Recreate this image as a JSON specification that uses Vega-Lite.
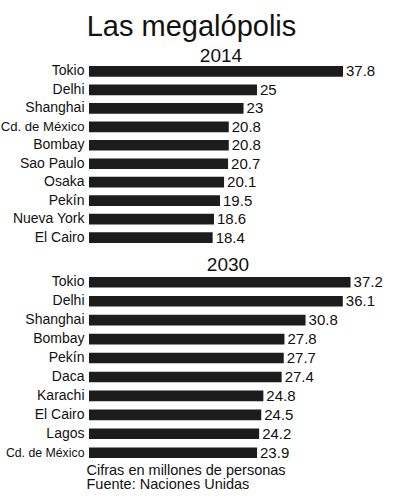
{
  "$schema": "https://vega.github.io/schema/vega-lite/v6.json",
  "padding": {"left": 0, "top": 12, "right": 0, "bottom": 0},
  "background": "white",
  "title": {"text": "Las megalópolis", "fontSize": 29, "fontWeight": "normal", "color": "#111111", "anchor": "middle", "offset": 5},
  "datasets": {
    "d2014": [
      {"city": "Tokio", "value": 37.8},
      {"city": "Delhi", "value": 25},
      {"city": "Shanghai", "value": 23},
      {"city": "Cd. de México", "value": 20.8},
      {"city": "Bombay", "value": 20.8},
      {"city": "Sao Paulo", "value": 20.7},
      {"city": "Osaka", "value": 20.1},
      {"city": "Pekín", "value": 19.5},
      {"city": "Nueva York", "value": 18.6},
      {"city": "El Cairo", "value": 18.4}
    ],
    "d2030": [
      {"city": "Tokio", "value": 37.2},
      {"city": "Delhi", "value": 36.1},
      {"city": "Shanghai", "value": 30.8},
      {"city": "Bombay", "value": 27.8},
      {"city": "Pekín", "value": 27.7},
      {"city": "Daca", "value": 27.4},
      {"city": "Karachi", "value": 24.8},
      {"city": "El Cairo", "value": 24.5},
      {"city": "Lagos", "value": 24.2},
      {"city": "Cd. de México", "value": 23.9}
    ]
  },
  "spacing": 9,
  "resolve": {"scale": {"x": "independent", "y": "independent"}},
  "vconcat": [
    {
      "width": 264,
      "height": 177,
      "data": {"name": "d2014"},
      "title": {"text": "2014", "fontSize": 19, "fontWeight": "normal", "color": "#111111", "frame": "group", "anchor": "middle", "offset": -2},
      "encoding": {
        "y": {"field": "city", "type": "nominal", "sort": null,
              "scale": {"paddingInner": 0.42, "paddingOuter": 0},
              "axis": {"title": null, "ticks": false, "domain": false,
                       "labelFontSize": {"expr": "datum.value == 'Cd. de México' ? 13.1 : 14"},
                       "labelPadding": 5, "labelColor": "#111111", "labelLimit": 200}},
        "x": {"field": "value", "type": "quantitative", "scale": {"domain": [0, 39.29], "nice": false}, "axis": null}
      },
      "layer": [
        {"mark": {"type": "bar", "color": "#1c1c1c"}},
        {"mark": {"type": "text", "align": "left", "baseline": "middle", "dx": 3, "fontSize": 15, "color": "#111111"},
         "encoding": {"text": {"field": "value", "type": "quantitative"}}}
      ]
    },
    {
      "width": 264,
      "height": 181,
      "data": {"name": "d2030"},
      "title": {"text": "2030", "fontSize": 19, "fontWeight": "normal", "color": "#111111", "frame": "group", "anchor": "middle", "offset": 0, "dx": 7},
      "encoding": {
        "y": {"field": "city", "type": "nominal", "sort": null,
              "scale": {"paddingInner": 0.44, "paddingOuter": 0},
              "axis": {"title": null, "ticks": false, "domain": false,
                       "labelFontSize": {"expr": "datum.value == 'Cd. de México' ? 12.3 : 14"},
                       "labelPadding": 5, "labelColor": "#111111", "labelLimit": 200}},
        "x": {"field": "value", "type": "quantitative", "scale": {"domain": [0, 37.55], "nice": false},
              "axis": {"orient": "bottom", "labels": false, "ticks": false, "domain": false, "grid": false,
                       "title": ["Cifras en millones de personas", "Fuente: Naciones Unidas"],
                       "titleFontSize": 14.5, "titleFontWeight": "normal", "titleColor": "#111111",
                       "titleAnchor": "start", "titleAlign": "left", "titleBaseline": "top",
                       "titlePadding": 5, "titleLineHeight": 14.5, "titleX": -3}}
      },
      "layer": [
        {"mark": {"type": "bar", "color": "#1c1c1c"}},
        {"mark": {"type": "text", "align": "left", "baseline": "middle", "dx": 3, "fontSize": 15, "color": "#111111"},
         "encoding": {"text": {"field": "value", "type": "quantitative"}}}
      ]
    }
  ],
  "config": {"view": {"stroke": null}, "font": "Liberation Sans", "axis": {"grid": false}}
}
